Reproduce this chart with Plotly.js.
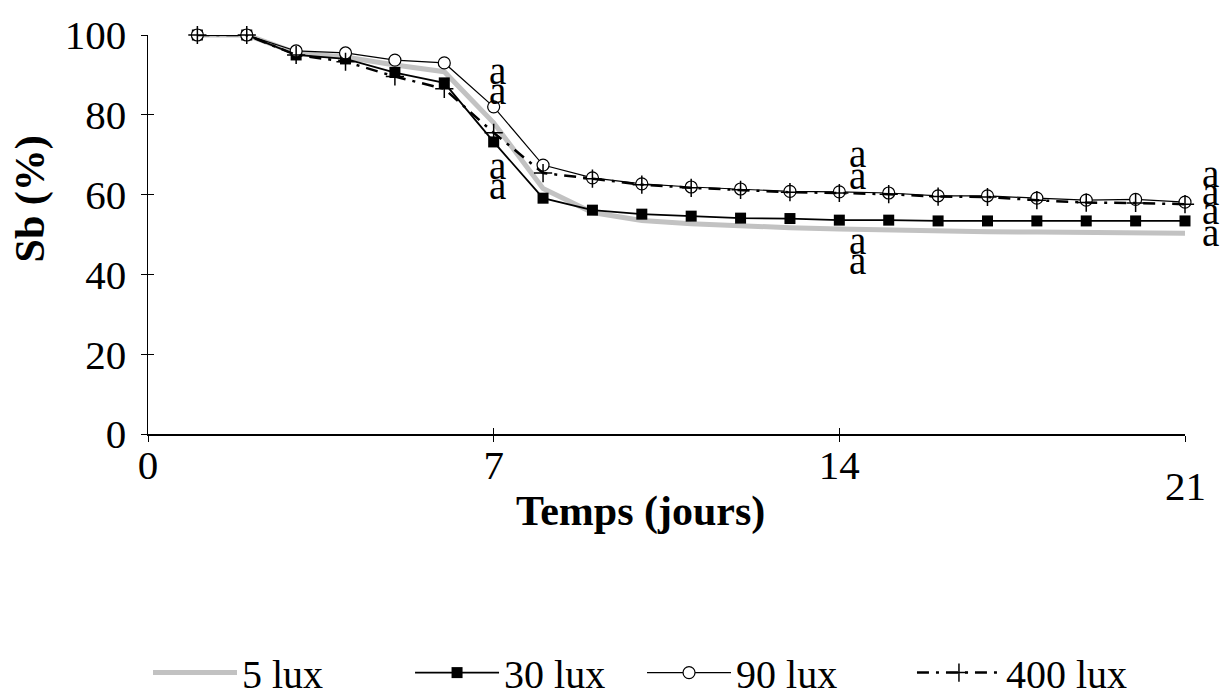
<!DOCTYPE html>
<html>
<head>
<meta charset="utf-8">
<script src="https://cdn.plot.ly/plotly-3.0.1.min.js"></script>
<style>html,body{margin:0;padding:0;background:#fff;}#chart{width:1231px;height:698px;}</style>
</head>
<body>
<div id="chart"></div>
<script>
// Days
const days = [1,2,3,4,5,6,7,8,9,10,11,12,13,14,15,16,17,18,19,20,21];
// Sb (%) per light intensity
const lux5   = [100,100,95.5,94.5,92.5,90.8,78,61.5,55.5,53.5,52.7,52.1,51.7,51.4,51.1,50.9,50.7,50.6,50.5,50.4,50.3];
const lux30  = [100,100,95,94,90.6,88,73.2,59.1,56.1,55.1,54.6,54.1,54.0,53.6,53.6,53.4,53.4,53.4,53.4,53.4,53.4];
const lux90  = [100,100,96,95.5,93.7,93,82,67.4,64.2,62.7,61.9,61.4,60.8,60.7,60.4,59.7,59.7,59.1,58.6,58.8,58.1];
const lux400 = [100,100,95,93.3,89.6,86.5,75.5,65.4,64.0,62.5,61.7,61.2,60.6,60.4,60.1,59.5,59.4,58.6,58.0,57.9,57.6];
const seriesNames = ['5 lux','30 lux','90 lux','400 lux'];
const xTickVals = [0,7,14,21];
const xTickText = ['0','7','14',''];
const yTickVals = [0,20,40,60,80,100];

const serif = 'Liberation Serif';
const black = '#000';

const traces = [
  {x: days, y: lux5, name: seriesNames[0], mode: 'lines', cliponaxis: false, legend: 'legend',
   line: {color: '#c2c2c2', width: 5}},
  {x: days, y: lux30, name: seriesNames[1], mode: 'lines+markers', cliponaxis: false, legend: 'legend2',
   line: {color: black, width: 1.8},
   marker: {symbol: 'square', size: 11, color: black}},
  {x: days, y: lux90, name: seriesNames[2], mode: 'lines+markers', cliponaxis: false, legend: 'legend3',
   line: {color: black, width: 1.2},
   marker: {symbol: 'circle', size: 12, color: '#fff', line: {color: black, width: 1.2}}},
  {x: days, y: lux400, name: seriesNames[3], mode: 'lines+markers', cliponaxis: false, legend: 'legend4',
   line: {color: black, width: 2.5, dash: '12px,7px,3px,7px'},
   marker: {symbol: 'cross-thin-open', size: 13, color: black, line: {color: black, width: 1.5}}}
];

const aFont = {family: serif, size: 39, color: black};
function aNote(x, y) {
  return {x: x, y: y, xref: 'x', yref: 'y', text: 'a', showarrow: false, font: aFont,
          xanchor: 'center', yanchor: 'middle'};
}
function aNoteRight(y) {
  return {x: 1.025, y: y, xref: 'paper', yref: 'y', text: 'a', showarrow: false, font: aFont,
          xanchor: 'center', yanchor: 'middle'};
}
function leg(x) {
  return {orientation: 'h', x: x, xanchor: 'left', y: -0.598, yanchor: 'middle',
          font: {family: serif, size: 40, color: black}, itemwidth: 84,
          bgcolor: 'rgba(0,0,0,0)', borderwidth: 0};
}
const tickFont = {family: serif, size: 41, color: black};

const layout = {
  width: 1231, height: 698,
  margin: {l: 148, r: 46, t: 35, b: 264, autoexpand: false},
  paper_bgcolor: '#fff', plot_bgcolor: '#fff',
  showlegend: true,
  legend: leg(0.0), legend2: leg(0.2527), legend3: leg(0.4764), legend4: leg(0.7367),
  xaxis: {range: [0, 21], tickvals: xTickVals, ticktext: xTickText,
          showgrid: false, zeroline: false, showline: true, linecolor: black, linewidth: 1.5,
          ticks: 'outside', ticklen: 6, tickcolor: black, tickwidth: 1,
          ticklabelstandoff: -12, tickfont: tickFont},
  yaxis: {range: [0, 100], tickvals: yTickVals,
          showgrid: false, zeroline: false, showline: true, linecolor: black, linewidth: 1.5,
          ticks: 'outside', ticklen: 6, tickcolor: black, tickwidth: 1,
          ticklabelstandoff: 6, tickfont: tickFont},
  xaxis2: {range: [0, 21], overlaying: 'x', tickvals: xTickVals, showticklabels: false,
           showgrid: false, zeroline: false, showline: false,
           ticks: 'inside', ticklen: 6, tickcolor: black, tickwidth: 1, anchor: 'y', side: 'bottom'},
  yaxis2: {range: [0, 100], overlaying: 'y', tickvals: yTickVals, showticklabels: false,
           showgrid: false, zeroline: false, showline: false,
           ticks: 'inside', ticklen: 6, tickcolor: black, tickwidth: 1, anchor: 'x', side: 'left'},
  annotations: [
    {text: '<b>Sb (%)</b>', xref: 'paper', yref: 'paper', x: -0.113, y: 0.59, textangle: -90,
     xanchor: 'center', yanchor: 'middle',
     showarrow: false, font: {family: serif, size: 42, color: black}},
    {text: '<b>Temps (jours)</b>', xref: 'paper', yref: 'paper', x: 0.475, y: -0.195,
     xanchor: 'center', yanchor: 'middle',
     showarrow: false, font: {family: serif, size: 42, color: black}},
    {text: '21', xref: 'paper', yref: 'paper', x: 1.0, y: -0.13,
     xanchor: 'center', yanchor: 'middle',
     showarrow: false, font: tickFont},
    aNote(7.07, 91.2), aNote(7.07, 86.0), aNote(7.07, 67.4), aNote(7.07, 62.4),
    aNote(14.36, 70.4), aNote(14.36, 64.9), aNote(14.36, 48.4), aNote(14.36, 43.4),
    aNoteRight(65.4), aNoteRight(60.9), aNoteRight(55.9), aNoteRight(50.4)
  ]
};

// invisible trace to activate the overlay axes (ticks crossing the axis lines)
traces.push({x: [0], y: [0], xaxis: 'x2', yaxis: 'y2', mode: 'markers', showlegend: false,
             hoverinfo: 'skip', marker: {opacity: 0}});

Plotly.newPlot('chart', traces, layout, {displayModeBar: false, staticPlot: true});
</script>
</body>
</html>
